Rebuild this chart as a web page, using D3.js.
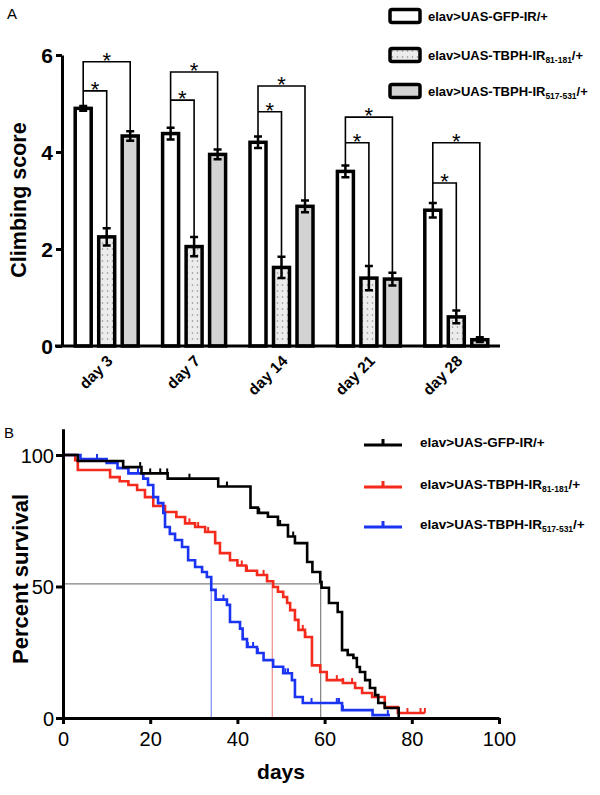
<!DOCTYPE html>
<html><head><meta charset="utf-8">
<script src="https://cdn.jsdelivr.net/npm/d3@7/dist/d3.min.js"></script>
<style>
html,body{margin:0;padding:0;background:#fff;}
svg{display:block;font-family:"Liberation Sans",Arial,sans-serif;}
</style></head>
<body><svg id="c" width="600" height="795"></svg>
<script>
// ---------- Panel A data ----------
const days = ["day 3","day 7","day 14","day 21","day 28"];
const seriesKeys = ["gfp","tbph81","tbph517"];
const gfpMean = [4.9,4.38,4.2,3.6,2.8];
const gfpErr = [0.05,0.12,0.12,0.12,0.15];
const tbph81Mean = [2.25,2.05,1.62,1.4,0.6];
const tbph81Err = [0.18,0.2,0.22,0.25,0.13];
const tbph517Mean = [4.33,3.95,2.88,1.38,0.13];
const tbph517Err = [0.1,0.1,0.12,0.13,0.05];
const innerBracket = [5.26,5.07,4.83,4.19,3.36];
const outerBracket = [5.86,5.65,5.36,4.72,4.19];
const yTicksA = [0,2,4,6];
const legendMain = ["elav>UAS-GFP-IR","elav>UAS-TBPH-IR","elav>UAS-TBPH-IR"];
const legendSub = ["","81-181","517-531"];

// ---------- Panel B data ----------
const blackT = [0,3.4,13.8,18,24,35.6,43,44.7,47,49.3,51.6,53.2,56,57.2,59,59.3,61,63,64,65.3,66.6,67.4,68.1,69.3,70.4,71.6,72.3,73.8,77];
const blackS = [100,97.7,95.4,93,91,88,80,78,76.5,73.4,69,66.5,59.3,55.5,51.7,49.5,43.7,40.3,25.8,24,22.8,19.4,17.5,14.4,11.4,8.7,5.7,3.8,0];
const redT = [0,2.8,3.4,10.8,13,15,17,18.8,20.7,23.4,26,28,30.3,32.6,34.9,36,38.3,40,42,44.5,46.8,48.2,49.3,50.5,51.4,52.1,53.2,54,55.5,57.1,59,60.5,64.2,67,68.6,70.9,73.8,76.8,83];
const redS = [100,98,94.3,91.6,90,88.6,86.7,84,80.6,78.3,76.4,74,72.6,70.7,66.5,62.7,60,58,56,54.4,52,49.8,48,46,43.7,41,37.3,33.5,30.8,20,17.5,14.4,13.3,11.4,9.5,8,4.2,1.9,1.9];
const blueT = [0,4,10,12.5,15,18.4,19.5,20.7,21.8,23,23.4,24.5,25.7,27.3,28.7,30.3,31.9,33,34,35,37.6,38.3,40.6,41.2,42.2,44.5,46,48.2,50.5,52.5,53.2,55,64,71,75];
const blueS = [100,98.5,97,95,93,91,88.6,84,81.7,78,72.6,70,67.7,65,60,57.4,55.5,53.6,48.7,45,43,36.5,34,30,27,24.7,22,19.5,17,14.4,8,5.7,3,1.1,1.1];
const blackCensor = [17.7,20,22.3,23.9,29,37.6,45,49.8,52.8];
const redCensor = [29,31,33.3,41,42.2,46,55,55.6,62.8,64.2,66.3,79,82,83];
const blueCensor = [7.8,17.2,18.4,36.8,41.3,42.4,43.6,44.7,51,51.6,57,62.8,63.3,64.2,74.5];
const medians = [59.1,48,34];
const medianLevel = 51;
const xTicksB = [0,20,40,60,80,100];
const yTicksB = [0,50,100];

const svg = d3.select("#c");
const FONT = '"Liberation Sans",Arial,sans-serif';

// ================= Panel A =================
const defs = svg.append("defs");
const pat = defs.append("pattern").attr("id","dots").attr("patternUnits","userSpaceOnUse")
  .attr("width",5).attr("height",6);
pat.append("rect").attr("width",5).attr("height",6).attr("fill","#ececec");
pat.append("circle").attr("cx",2.5).attr("cy",3).attr("r",0.8).attr("fill","#8a8a8a");
const fills = {gfp:"#ffffff", tbph81:"url(#dots)", tbph517:"#d3d3d3"};

svg.append("text").attr("x",7).attr("y",19).attr("font-size",15).text("A");

const yA = d3.scaleLinear().domain([0,6]).range([346,55]);
const xA = d3.scaleBand().domain(days).range([63,500]);
const xIn = d3.scalePoint().domain(seriesKeys).range([-23.5,23.5]);
const barW = 16;

const means = {gfp:gfpMean, tbph81:tbph81Mean, tbph517:tbph517Mean};
const errs = {gfp:gfpErr, tbph81:tbph81Err, tbph517:tbph517Err};

const barData = [];
days.forEach((d,i)=>seriesKeys.forEach(k=>barData.push({day:d,i,k,v:means[k][i],e:errs[k][i]})));
const cx = b => xA(b.day)+xA.bandwidth()/2+xIn(b.k);

const gA = svg.append("g");
gA.selectAll("rect.bar").data(barData).join("rect").attr("class","bar")
  .attr("x",b=>cx(b)-barW/2).attr("y",b=>yA(b.v)).attr("width",barW)
  .attr("height",b=>yA(0)-yA(b.v)).attr("fill",b=>fills[b.k])
  .attr("stroke","#000").attr("stroke-width",3.5);

// error bars
gA.selectAll("path.err").data(barData).join("path").attr("class","err")
  .attr("d",b=>{const x=cx(b),t=yA(b.v+b.e),bo=yA(b.v-b.e);
    return `M${x},${bo}V${t}M${x-4},${t}H${x+4}M${x-4},${bo}H${x+4}`;})
  .attr("stroke","#000").attr("stroke-width",2.5).attr("fill","none");

// brackets
days.forEach((d,i)=>{
  const c = xA(d)+xA.bandwidth()/2;
  const x0=c+xIn("gfp"), x1=c+xIn("tbph81"), x2=c+xIn("tbph517");
  const t0=yA(gfpMean[i]+gfpErr[i]), t1=yA(tbph81Mean[i]+tbph81Err[i]), t2=yA(tbph517Mean[i]+tbph517Err[i]);
  const hi=yA(innerBracket[i]), ho=yA(outerBracket[i]);
  gA.append("path").attr("d",`M${x0},${t0}V${ho}H${x2}V${t2}M${x0},${hi}H${x1}V${t1}`)
    .attr("fill","none").attr("stroke","#000").attr("stroke-width",1.6);
  gA.append("text").attr("x",(x0+x1)/2).attr("y",hi+6).attr("text-anchor","middle")
    .attr("font-size",22).text("*");
  gA.append("text").attr("x",(x0+x2)/2).attr("y",ho+6).attr("text-anchor","middle")
    .attr("font-size",22).text("*");
});

// axes A
const yAxA = svg.append("g").attr("transform","translate(62,0)")
  .call(d3.axisLeft(yA).tickValues(yTicksA).tickFormat(d3.format("d")).tickSize(6).tickSizeOuter(0).tickPadding(3));
yAxA.select(".domain").attr("stroke-width",3);
yAxA.selectAll(".tick line").attr("stroke-width",3);
yAxA.selectAll("text").attr("font-size",21).attr("font-weight","bold").attr("font-family",FONT).attr("dy","0.36em");

svg.append("line").attr("x1",55).attr("x2",500).attr("y1",yA(0)).attr("y2",yA(0))
  .attr("stroke","#000").attr("stroke-width",3);

svg.selectAll("text.dayl").data(days).join("text").attr("class","dayl")
  .attr("transform",d=>`translate(${xA(d)+xA.bandwidth()/2+7},362) rotate(-45)`)
  .attr("text-anchor","end").attr("font-size",15.5).attr("font-weight","bold").text(d=>d);

svg.append("text").attr("transform","translate(26,200) rotate(-90)")
  .attr("text-anchor","middle").attr("font-size",21.5).attr("font-weight","bold").text("Climbing score");

// legend A
const legAY = [16,55,91];
legendMain.forEach((m,i)=>{
  svg.append("rect").attr("x",390).attr("y",legAY[i]-6.5).attr("width",30).attr("height",13).attr("rx",2)
    .attr("fill",fills[seriesKeys[i]]).attr("stroke","#000").attr("stroke-width",3.5);
  const t = svg.append("text").attr("x",428).attr("y",legAY[i]+4.5).attr("font-size",13).attr("font-weight","bold");
  t.append("tspan").text(m);
  if (legendSub[i]) t.append("tspan").attr("font-size",8.5).attr("dy",3).text(legendSub[i]);
  t.append("tspan").attr("dy",legendSub[i]?-3:0).text("/+");
});

// ================= Panel B =================
svg.append("text").attr("x",4).attr("y",438).attr("font-size",15).text("B");

const xB = d3.scaleLinear().domain([0,100]).range([63,499]);
const yB = d3.scaleLinear().domain([0,110]).range([718,428.7]);

// median reference lines
const medColors = ["#808080","#f08a8a","#7f8cf2"];
svg.append("line").attr("x1",xB(0)).attr("x2",xB(medians[0])).attr("y1",yB(medianLevel)).attr("y2",yB(medianLevel))
  .attr("stroke","#808080").attr("stroke-width",1.2);
medians.forEach((m,i)=>svg.append("line").attr("x1",xB(m)).attr("x2",xB(m))
  .attr("y1",yB(medianLevel)).attr("y2",yB(0)).attr("stroke",medColors[i]).attr("stroke-width",1.2));

const curves = [
  {t:redT,s:redS,c:redCensor,col:"#f42a1c"},
  {t:blueT,s:blueS,c:blueCensor,col:"#1b34f2"},
  {t:blackT,s:blackS,c:blackCensor,col:"#000000"}
];
const line = d3.line().x(d=>xB(d[0])).y(d=>yB(d[1])).curve(d3.curveStepAfter);
curves.forEach(cv=>{
  const pts = cv.t.map((t,i)=>[t,cv.s[i]]);
  svg.append("path").attr("d",line(pts)).attr("fill","none").attr("stroke",cv.col)
    .attr("stroke-width",2.6).attr("stroke-linejoin","miter");
  const valAt = t => cv.s[Math.max(0,d3.bisectRight(cv.t,t)-1)];
  svg.selectAll(null).data(cv.c).join("line")
    .attr("x1",d=>xB(d)).attr("x2",d=>xB(d)).attr("y1",d=>yB(valAt(d))).attr("y2",d=>yB(valAt(d))-5)
    .attr("stroke",cv.col).attr("stroke-width",2);
});

// axes B
const xAxB = svg.append("g").attr("transform","translate(0,718)")
  .call(d3.axisBottom(xB).tickValues(xTicksB).tickSize(6).tickSizeOuter(0).tickPadding(8));
xAxB.select(".domain").attr("stroke-width",3);
xAxB.selectAll(".tick line").attr("stroke-width",3);
xAxB.selectAll("text").attr("font-size",20).attr("font-family",FONT);

const yAxB = svg.append("g").attr("transform","translate(63,0)")
  .call(d3.axisLeft(yB).tickValues(yTicksB).tickSize(7).tickSizeOuter(0).tickPadding(2));
yAxB.select(".domain").attr("stroke-width",3);
yAxB.selectAll(".tick line").attr("stroke-width",3);
yAxB.selectAll("text").attr("font-size",20).attr("font-family",FONT).attr("dy","0.36em");

svg.append("text").attr("x",281).attr("y",779).attr("text-anchor","middle")
  .attr("font-size",21).attr("font-weight","bold").text("days");
svg.append("text").attr("transform","translate(28,579) rotate(-90)")
  .attr("text-anchor","middle").attr("font-size",22).attr("font-weight","bold").text("Percent survival");

// legend B
const legBY = [445,487,527];
const legBCol = ["#000000","#f42a1c","#1b34f2"];
legendMain.forEach((m,i)=>{
  svg.append("path").attr("d",`M364,${legBY[i]}H402M383,${legBY[i]}V${legBY[i]-6}`)
    .attr("stroke",legBCol[i]).attr("stroke-width",3).attr("fill","none");
  const t = svg.append("text").attr("x",420).attr("y",legBY[i]+1.5).attr("font-size",13.5).attr("font-weight","bold");
  t.append("tspan").text(m);
  if (legendSub[i]) t.append("tspan").attr("font-size",8.5).attr("dy",3).text(legendSub[i]);
  t.append("tspan").attr("dy",legendSub[i]?-3:0).text("/+");
});
</script>
</body></html>
